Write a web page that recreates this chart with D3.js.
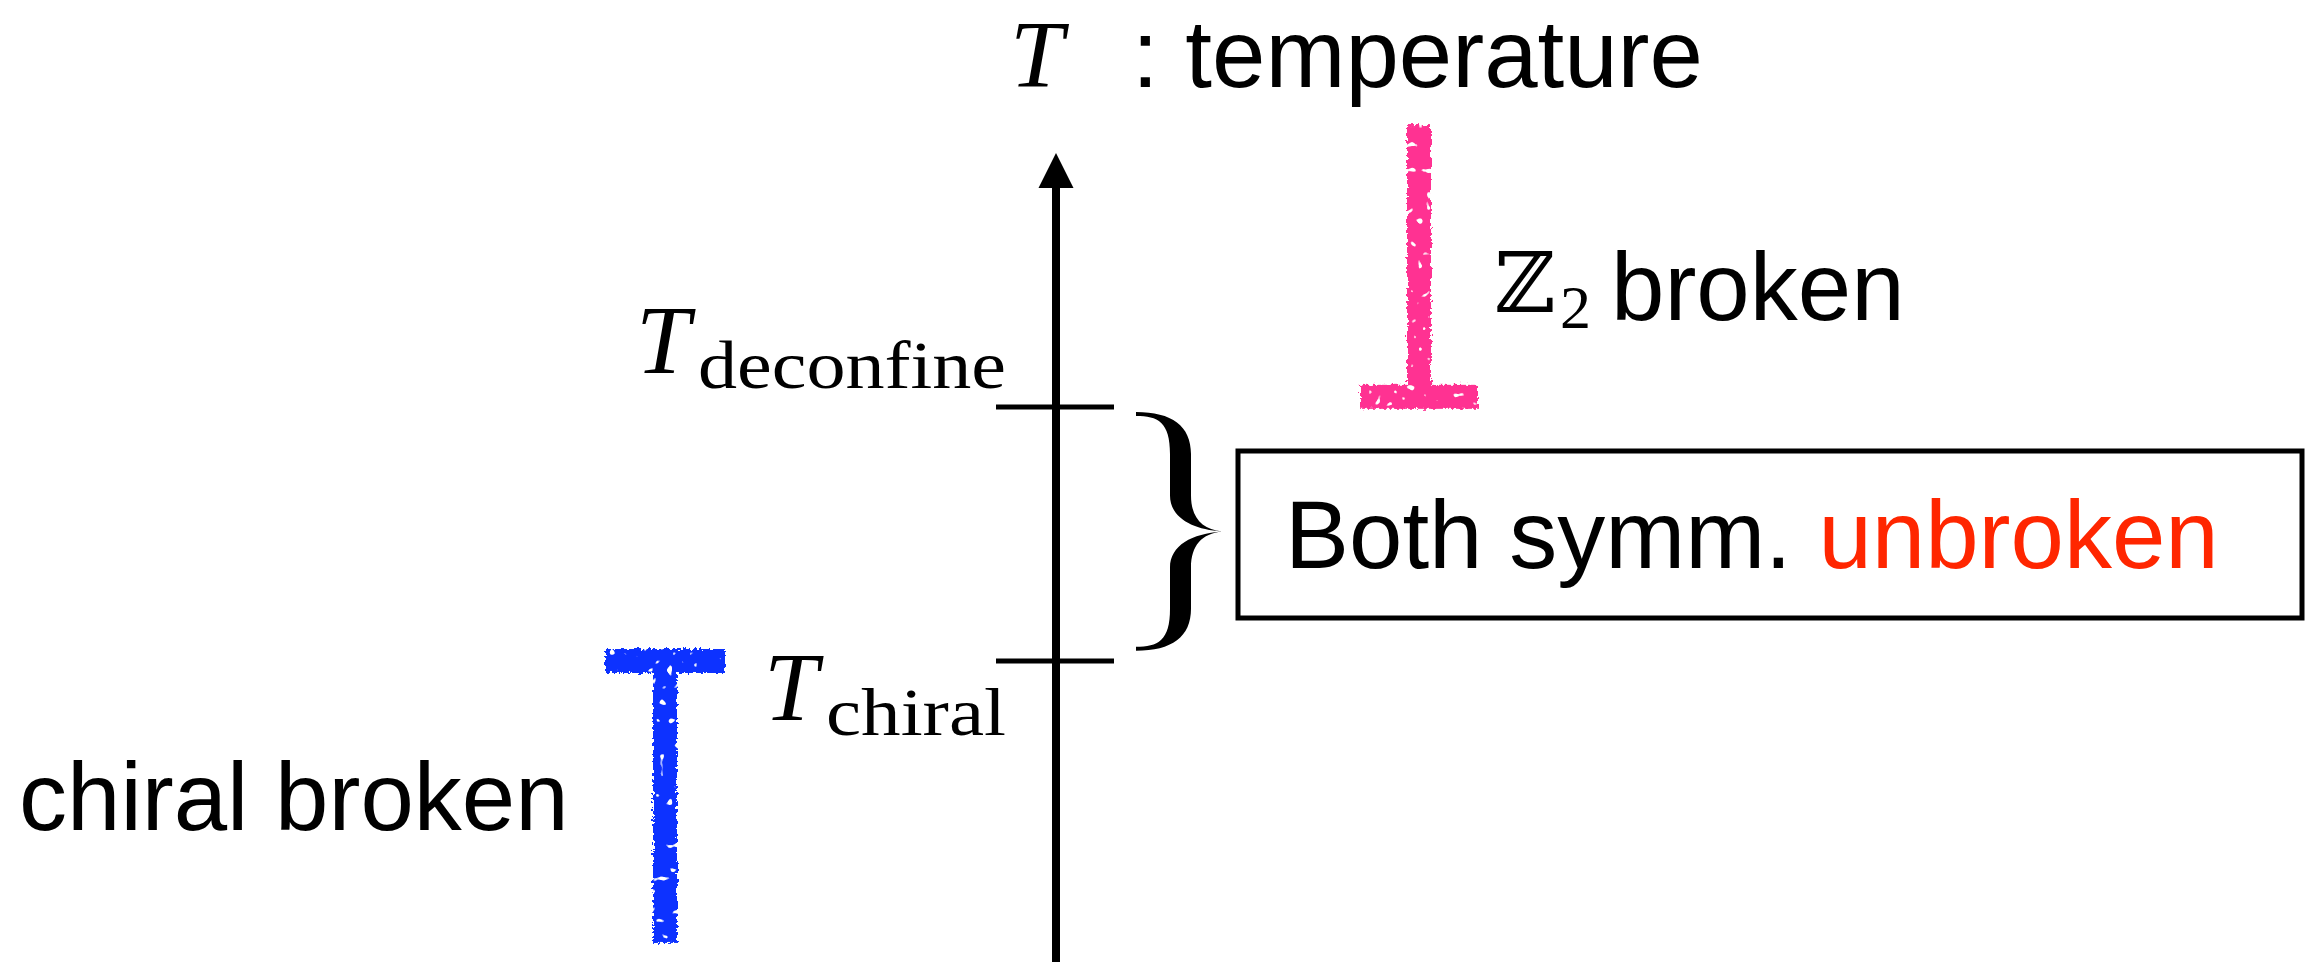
<!DOCTYPE html>
<html>
<head>
<meta charset="utf-8">
<script src="https://cdn.jsdelivr.net/npm/d3@7"></script>
<style>
  body { margin: 0; background: #fff; }
  .sans { font-family: 'Liberation Sans', Arial, Helvetica, sans-serif; }
  .math { font-family: 'Liberation Serif', 'Times New Roman', serif; }
</style>
</head>
<body>
<script>
// temperature levels (arbitrary units): T_chiral = 1, T_deconfine = 2
var tickValues = [1, 2];
var tickSubs = ['chiral', 'deconfine'];

// the two "broken" phases: level of the crossbar and far end of the stem
var phaseNames = ['chiral broken', 'broken'];
var phaseBar = [1.0, 2.04];
var phaseEnd = [-0.11, 3.11];
var phaseColors = ['#0c33ff', '#ff3192'];

// the bracket over the window where both symmetries are unbroken
var braceRange = [1.04, 1.98];
var boxLabel = ['Both symm. ', 'unbroken'];

var axisTop = 3.0, axisBottom = -0.2;

var width = 2310, height = 962;
var axisX = 1056;

var svg = d3.select('body').append('svg')
  .attr('width', width)
  .attr('height', height);

// crayon look: wobbly edges plus a few holes
var defs = svg.append('defs');
var rough = defs.append('filter')
  .attr('id', 'rough')
  .attr('x', '-30%').attr('y', '-10%')
  .attr('width', '160%').attr('height', '120%');
rough.append('feTurbulence')
  .attr('type', 'fractalNoise')
  .attr('baseFrequency', 0.3)
  .attr('numOctaves', 2)
  .attr('seed', 4)
  .attr('result', 'noise');
rough.append('feDisplacementMap')
  .attr('in', 'SourceGraphic')
  .attr('in2', 'noise')
  .attr('scale', 7)
  .attr('xChannelSelector', 'R')
  .attr('yChannelSelector', 'G')
  .attr('result', 'wobble');
rough.append('feTurbulence')
  .attr('type', 'fractalNoise')
  .attr('baseFrequency', 0.12)
  .attr('numOctaves', 1)
  .attr('seed', 11)
  .attr('result', 'spk');
rough.append('feColorMatrix')
  .attr('in', 'spk')
  .attr('type', 'matrix')
  .attr('values', '0 0 0 0 0  0 0 0 0 0  0 0 0 0 0  0 0 0 -20 14.4')
  .attr('result', 'mask');
rough.append('feComposite')
  .attr('in', 'wobble')
  .attr('in2', 'mask')
  .attr('operator', 'in');

var y = d3.scaleLinear()
  .domain([1, 2])
  .range([661, 407]);

// axis with arrow
svg.append('line')
  .attr('x1', axisX).attr('x2', axisX)
  .attr('y1', y(axisBottom)).attr('y2', y(axisTop) + 30)
  .attr('stroke', '#000')
  .attr('stroke-width', 8);

svg.append('path')
  .attr('d', 'M' + axisX + ',' + y(axisTop) +
    'L' + (axisX + 17.5) + ',' + (y(axisTop) + 35) +
    'L' + (axisX - 17.5) + ',' + (y(axisTop) + 35) + 'Z')
  .attr('fill', '#000');

// ticks
svg.selectAll('line.tick')
  .data(tickValues)
  .enter()
  .append('line')
  .attr('class', 'tick')
  .attr('x1', axisX - 60).attr('x2', axisX + 58)
  .attr('y1', function(d) { return y(d); })
  .attr('y2', function(d) { return y(d); })
  .attr('stroke', '#000')
  .attr('stroke-width', 5);

// tick labels  T_sub
var tickLab = svg.selectAll('g.ticklab')
  .data(tickValues)
  .enter()
  .append('g')
  .attr('class', 'ticklab math');

var subRight = 1006;
var subWidth = [180, 308];
tickLab.append('text')
  .attr('x', function(d, i) { return subRight - subWidth[i] - 62; })
  .attr('y', function(d, i) { return i ? y(d) - 34 : y(d) + 59; })
  .attr('font-style', 'italic')
  .attr('font-size', 97)
  .text('T');
tickLab.append('text')
  .attr('x', function(d, i) { return subRight - subWidth[i]; })
  .attr('y', function(d, i) { return i ? y(d) - 19 : y(d) + 74; })
  .attr('font-size', 67)
  .attr('textLength', function(d, i) { return subWidth[i]; })
  .attr('lengthAdjust', 'spacingAndGlyphs')
  .text(function(d, i) { return tickSubs[i]; });

// axis title
svg.append('text')
  .attr('class', 'math')
  .attr('x', 1010).attr('y', 87)
  .attr('font-style', 'italic')
  .attr('font-size', 96)
  .text('T');
svg.append('text')
  .attr('class', 'sans')
  .attr('x', 1132).attr('y', 87)
  .attr('font-size', 96)
  .text(': temperature');

// crayon T marks for the broken phases
var stemX = [665, 1419];
var barHalf = [60, 59];
var marks = svg.selectAll('g.phase')
  .data(phaseBar)
  .enter()
  .append('g')
  .attr('class', 'phase')
  .attr('filter', 'url(#rough)')
  .attr('fill', function(d, i) { return phaseColors[i]; });

marks.append('rect')
  .attr('x', function(d, i) { return stemX[i] - 12; })
  .attr('width', 24)
  .attr('y', function(d, i) { return Math.min(y(d), y(phaseEnd[i])); })
  .attr('height', function(d, i) { return Math.abs(y(d) - y(phaseEnd[i])); });

marks.append('rect')
  .attr('x', function(d, i) { return stemX[i] - barHalf[i]; })
  .attr('width', function(d, i) { return 2 * barHalf[i]; })
  .attr('y', function(d, i) { return y(d) - 12; })
  .attr('height', 24);

// phase labels
svg.append('text')
  .attr('class', 'sans')
  .attr('x', 19).attr('y', 830)
  .attr('font-size', 96)
  .text(phaseNames[0]);

svg.append('text')
  .attr('font-family', "'DejaVu Serif', serif")
  .attr('x', 1494).attr('y', 312)
  .attr('font-size', 84)
  .text('\u2124');
svg.append('text')
  .attr('class', 'math')
  .attr('x', 1560).attr('y', 328)
  .attr('font-size', 62)
  .text('2');
svg.append('text')
  .attr('class', 'sans')
  .attr('x', 1611).attr('y', 320)
  .attr('font-size', 96)
  .text(phaseNames[1]);

// curly brace
function braceHalf(s) {
  // s = -1 upper half, +1 lower half; local coords with tip at 0,0
  var h = (y(braceRange[0]) - y(braceRange[1])) / 2;
  function p(dx, dy) { return dx + ',' + (s * dy); }
  return 'M' + p(-86, h) +
    'C' + p(-50, h) + ' ' + p(-31, h - 14) + ' ' + p(-31, h - 42) +
    'L' + p(-31, 36) +
    'C' + p(-31, 14) + ' ' + p(-20, 2) + ' ' + p(0, 0) +
    'C' + p(-30, 2) + ' ' + p(-52, 14) + ' ' + p(-52, 36) +
    'L' + p(-52, h - 42) +
    'C' + p(-52, h - 10) + ' ' + p(-64, h - 4) + ' ' + p(-86, h - 4) + 'Z';
}
var brace = svg.append('g')
  .attr('transform', 'translate(1222,' + y((braceRange[0] + braceRange[1]) / 2) + ')');
brace.append('path').attr('d', braceHalf(-1)).attr('fill', '#000');
brace.append('path').attr('d', braceHalf(1)).attr('fill', '#000');

// box
svg.append('rect')
  .attr('x', 1238).attr('y', 451)
  .attr('width', 1064).attr('height', 167)
  .attr('fill', 'none')
  .attr('stroke', '#000')
  .attr('stroke-width', 5);

var boxText = svg.append('text')
  .attr('class', 'sans')
  .attr('x', 1285).attr('y', 568)
  .attr('font-size', 96);
boxText.append('tspan').text(boxLabel[0]);
boxText.append('tspan').attr('fill', '#ff2600').text(boxLabel[1]);
</script>
</body>
</html>
